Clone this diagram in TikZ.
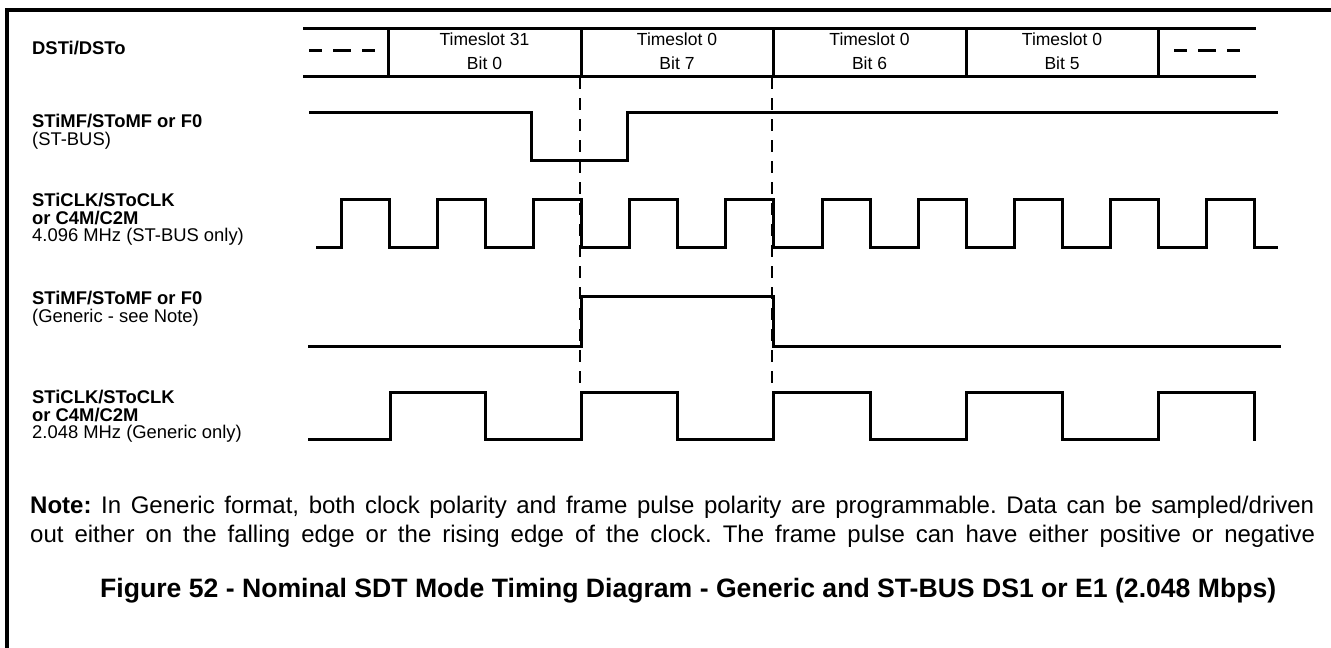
\documentclass[tikz,border=0pt]{standalone}
\usepackage{fontspec}
\setmainfont{Liberation Sans}
\frenchspacing
\tikzset{
  wave/.style={line width=3pt},
  guide/.style={line width=2.5pt,dash pattern=on 12pt off 9pt},
  gapdash/.style={line width=3pt,dash pattern=on 13pt off 11pt on 18pt off 11pt on 13pt off 20pt},
  sig/.style={anchor=north west,inner sep=0pt,align=left,font=\fontsize{18.4}{17.5}\selectfont},
  slot/.style={anchor=north,inner sep=0pt,align=center,font=\fontsize{17.5}{24}\selectfont},
  note/.style={anchor=base west,inner sep=0pt,font=\fontsize{24}{29}\selectfont},
}
\begin{document}
\begin{tikzpicture}[x=1pt,y=-1pt]
\useasboundingbox (0,0) rectangle (1331,648);
\def\clkhi{199}
\def\clklo{247}
\def\genhi{392}
\def\genlo{439}
%% Frame
\draw[line width=3.2pt] (7,648) -- (7,10) -- (1331,10);
%% Row 1: DSTi/DSTo data slots
\draw[wave] (303,28) -- (1256,28);
\draw[wave] (303,76) -- (1256,76);
\draw[wave] (388,28) -- (388,76);
\draw[wave] (581,28) -- (581,76);
\draw[wave] (773,28) -- (773,76);
\draw[wave] (966,28) -- (966,76);
\draw[wave] (1158,28) -- (1158,76);
\draw[gapdash] (309,50) -- (375,50);
\draw[gapdash] (1174,50) -- (1240,50);
\node[slot] (ts31) at (484.5,32.5) {Timeslot 31\\Bit 0};
\node[slot] (ts0b7) at (677,32.5) {Timeslot 0\\Bit 7};
\node[slot] (ts0b6) at (869.5,32.5) {Timeslot 0\\Bit 6};
\node[slot] (ts0b5) at (1062,32.5) {Timeslot 0\\Bit 5};
%% Row 2: frame pulse (ST-BUS)
\draw[wave] (309,112) -- (531,112) -- (531,160) -- (627,160) -- (627,112) -- (1278,112);
%% Row 3: 4.096 MHz clock
\draw[wave] (316,\clklo) -- (341,\clklo) -- (341,\clkhi) -- (389,\clkhi) -- (389,\clklo)
  -- (437,\clklo) -- (437,\clkhi) -- (485,\clkhi) -- (485,\clklo)
  -- (533,\clklo) -- (533,\clkhi) -- (581,\clkhi) -- (581,\clklo)
  -- (629,\clklo) -- (629,\clkhi) -- (677,\clkhi) -- (677,\clklo)
  -- (725,\clklo) -- (725,\clkhi) -- (773,\clkhi) -- (773,\clklo)
  -- (822,\clklo) -- (822,\clkhi) -- (870,\clkhi) -- (870,\clklo)
  -- (918,\clklo) -- (918,\clkhi) -- (966,\clkhi) -- (966,\clklo)
  -- (1014,\clklo) -- (1014,\clkhi) -- (1062,\clkhi) -- (1062,\clklo)
  -- (1110,\clklo) -- (1110,\clkhi) -- (1158,\clkhi) -- (1158,\clklo)
  -- (1206,\clklo) -- (1206,\clkhi) -- (1254,\clkhi) -- (1254,\clklo) -- (1278,\clklo);
%% Row 4: frame pulse (Generic)
\draw[wave] (308,346) -- (581,346) -- (581,296) -- (773,296) -- (773,346) -- (1281,346);
%% Row 5: 2.048 MHz clock
\draw[wave] (308,\genlo) -- (390,\genlo) -- (390,\genhi) -- (485,\genhi) -- (485,\genlo)
  -- (581,\genlo) -- (581,\genhi) -- (677,\genhi) -- (677,\genlo)
  -- (773,\genlo) -- (773,\genhi) -- (870,\genhi) -- (870,\genlo)
  -- (966,\genlo) -- (966,\genhi) -- (1062,\genhi) -- (1062,\genlo)
  -- (1158,\genlo) -- (1158,\genhi) -- (1254,\genhi) -- (1254,\genlo+1.5);
%% Guides at frame boundary
\draw[guide] (580,77) -- (580,390);
\draw[guide] (772,77) -- (772,390);
%% Signal labels
\node[sig] (lbldst) at (32,41.3) {\textbf{DSTi/DSTo}};
\node[sig] (lblfst) at (32,114.3) {\textbf{STiMF/SToMF or F0}\\(ST-BUS)};
\node[sig] (lblcks) at (32,193.3) {\textbf{STiCLK/SToCLK}\\\textbf{or C4M/C2M}\\4.096 MHz (ST-BUS only)};
\node[sig] (lblfgn) at (32,291.3) {\textbf{STiMF/SToMF or F0}\\(Generic - see Note)};
\node[sig] (lblckg) at (32,390.3) {\textbf{STiCLK/SToCLK}\\\textbf{or C4M/C2M}\\2.048 MHz (Generic only)};
%% Note and caption
\node[note] (notea) at (30,513) {\makebox[1284pt][s]{\textbf{Note:} In Generic format, both clock polarity and frame pulse polarity are programmable. Data can be sampled/driven}};
\node[note] (noteb) at (30,542) {\makebox[1285pt][s]{out either on the falling edge or the rising edge of the clock. The frame pulse can have either positive or negative}};
\node[anchor=base west,inner sep=0pt,font=\fontsize{26.6}{30}\selectfont\bfseries] (caption) at (100,597) {Figure 52 - Nominal SDT Mode Timing Diagram - Generic and ST-BUS DS1 or E1 (2.048 Mbps)};
\end{tikzpicture}
\end{document}
